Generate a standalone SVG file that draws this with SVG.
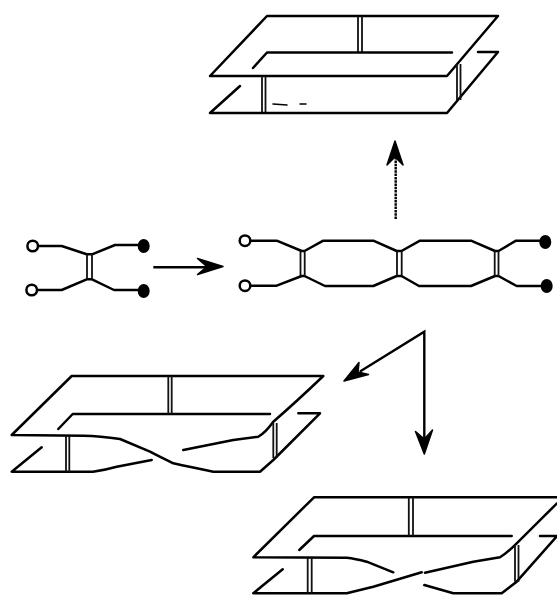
<svg xmlns="http://www.w3.org/2000/svg" width="557" height="595" viewBox="0 0 557 595">
<style>
.l{fill:none;stroke:#000;stroke-width:2.5;stroke-linejoin:round;stroke-linecap:round}
.d{fill:none;stroke:#111;stroke-width:1.8}
.o{fill:#fff;stroke:#000;stroke-width:2.5}
.f{fill:#000}
.h{fill:#000;stroke:#000;stroke-width:1.500;stroke-linejoin:round}
.a{fill:none;stroke:#000;stroke-width:2.400}
</style>
<rect width="557" height="595" fill="#fff"/>
<g id="surface-top">
<path class="l" d="M253 68L267 52.500H452M478 52H498L447 113H210L240 86"/>
<path class="l" d="M210 76L267 16H498L447 76Z"/>
<path class="d" d="M358 16V52M362 16V52M262 76V112M265.500 76V112M457 64V100M460.500 64V100"/>
<path class="l" style="stroke-width:1.500" d="M273 104L287 105M300 104L306 104"/>
</g>
<g id="graph-left">
<path class="l" d="M38 246H61.700L86.700 254.300H92L115 245H140M36.700 290H61.700L86.700 279.300H92L114 290H140"/>
<path class="d" d="M87 254V279M92 254V279"/>
<circle class="o" cx="32.700" cy="246" r="5.300"/>
<circle class="o" cx="31.700" cy="290" r="5.300"/>
<ellipse class="f" cx="143.700" cy="246" rx="6" ry="7"/>
<ellipse class="f" cx="143.700" cy="291" rx="6" ry="7"/>
</g>
<g id="graph-middle">
<path class="l" d="M250 240.700H276.700L301.700 251H304.500L323.300 240.700H373.300L396.700 251H401.500L420 240.700H471L495 251H498.500L516 240.700H541"/>
<path class="l" d="M250 285.700H276.700L301.700 276H304.500L325 286H373.300L396.700 276H401.500L419 286H471L495 276H498.500L516.700 286H541"/>
<path class="d" d="M300.500 251V276M304.700 251V276M397 251V276M401.700 251V276M494.700 251V276M498.500 251V276"/>
<circle class="o" cx="245" cy="240.700" r="5.300"/>
<circle class="o" cx="245" cy="285.700" r="5.300"/>
<ellipse class="f" cx="545.300" cy="242" rx="6" ry="7"/>
<ellipse class="f" cx="546.700" cy="286" rx="6" ry="7"/>
</g>
<g id="surface-left">
<path class="l" d="M58.300 429L72.700 414H270M298.300 413.300H320L273.300 460L260 471.700H213.300Q190 467 173.300 463.300Q160 457 150 451.700L120 439Q100 436 83.300 435.700L11.700 435L71.700 376H323.300Q295 403 273.300 421.700Q266 432 258.300 436.700L233.300 440L183.300 450"/>
<path class="l" d="M41.700 447.300L11.700 471.700H93Q105 470 116.700 466.700L151.700 460"/>
<path class="d" d="M168.300 376V414M171.700 376V414M66 436V472M69.300 436V472M273.300 423V458M276.700 423V458"/>
</g>
<g id="surface-right">
<path class="l" d="M299.300 550L314 536H511.700M393.300 572.300L366.700 561.700Q355 558.500 346.700 557.700L253.300 557.300L314 497.300H557M557 503.300L516.700 543.300Q508 552 500 557.300L473.300 561.700L425 572.700"/>
<path class="l" d="M282.700 569.300L253.300 593.300H346.700L373.300 586.700L421.700 572.300M424.300 585L453.300 593.300H501.700L516.700 581.700L557 536H540"/>
<path class="d" d="M408.800 497.300V536M413 497.300V536M307.700 558V593M311.700 558V593M515 545V581.700M518.500 545V581.700"/>
</g>
<g id="connectors">
<path class="a" d="M153.300 267.300H212"/>
<polygon class="h" points="223,266.500 197.500,258.500 207,266.700 197.500,274.500"/>
<path class="a" stroke-dasharray="2.500 0.800" d="M395.700 219V158"/>
<polygon class="h" points="395,141 387,165 395,157 403,165"/>
<path class="a" d="M360 371.500L424.300 331.700V440"/>
<polygon class="h" points="344,381 359,362.500 358,372 368.500,374.500"/>
<polygon class="h" points="424.300,454 415.500,431.500 424.300,439 432.500,430"/>
</g>
</svg>
